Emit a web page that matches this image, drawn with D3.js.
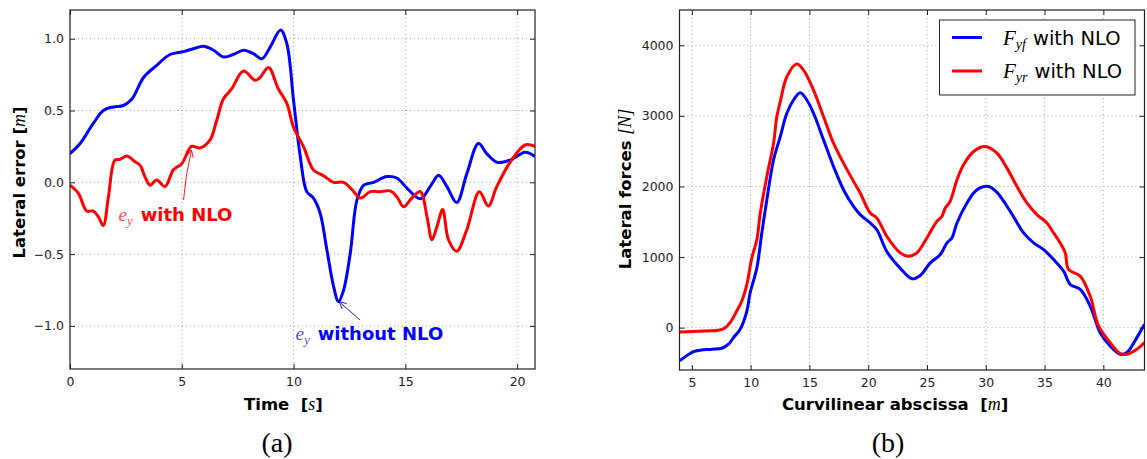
<!DOCTYPE html>
<html><head><meta charset="utf-8">
<script src="https://cdn.jsdelivr.net/npm/d3@7"></script>
<style>
html,body{margin:0;padding:0;background:#fff;}
svg{display:block;}
text{white-space:pre;}
.tick text{font-family:"DejaVu Sans",sans-serif;font-size:12.5px;fill:#222;}
.lab{font-family:"DejaVu Sans",sans-serif;font-weight:bold;font-size:16.5px;fill:#000;}
.math{font-family:"Liberation Serif","DejaVu Serif",serif;font-style:italic;font-weight:normal;}
</style>
</head><body>
<svg id="c" width="1147" height="459"></svg>
<script>
// ---------- Data: panel (a) lateral error ----------
const tWithout = [0,0.45,1.04,1.49,1.94,2.39,2.77,3.29,3.88,4.47,5.07,5.52,5.97,6.42,6.87,7.31,7.76,8.2,8.58,8.95,9.42,9.7,10.0,10.3,10.59,10.89,11.19,11.49,11.79,12.01,12.24,12.54,12.84,13.14,13.58,14.18,14.62,15.07,15.67,16.11,16.49,16.86,17.3,17.75,18.27,18.64,19.09,19.69,20.36,20.8];
const eyWithout = [0.20,0.27,0.41,0.50,0.525,0.535,0.58,0.73,0.815,0.89,0.91,0.93,0.947,0.92,0.873,0.89,0.92,0.896,0.86,0.94,1.06,0.965,0.57,0.18,-0.065,-0.11,-0.215,-0.47,-0.725,-0.83,-0.75,-0.49,-0.12,-0.02,0.0,0.04,0.03,-0.04,-0.115,-0.03,0.05,-0.03,-0.14,0.06,0.27,0.20,0.14,0.155,0.21,0.18];
const tWith = [0,0.37,0.75,1.04,1.27,1.49,1.72,2.01,2.24,2.54,2.91,3.13,3.35,3.58,3.88,4.25,4.62,5.0,5.44,5.82,6.26,6.56,6.86,7.23,7.76,8.28,8.5,8.88,9.32,9.7,9.99,10.44,10.89,11.34,11.79,12.24,12.61,12.99,13.43,13.88,14.32,14.62,14.92,15.29,15.67,15.97,16.19,16.41,16.67,16.93,17.3,17.75,18.31,18.71,19.09,19.69,20.36,20.8];
const eyWith = [-0.02,-0.076,-0.20,-0.20,-0.24,-0.30,-0.10,0.155,0.16,0.183,0.143,0.12,0.04,-0.02,0.016,-0.03,0.086,0.13,0.25,0.24,0.294,0.43,0.58,0.65,0.775,0.71,0.73,0.80,0.65,0.55,0.387,0.25,0.086,0.046,0.0,0.0,-0.05,-0.11,-0.065,-0.065,-0.06,-0.10,-0.17,-0.11,-0.065,-0.24,-0.40,-0.31,-0.19,-0.40,-0.48,-0.33,-0.065,-0.165,-0.03,0.14,0.26,0.25];
const timeTicks = [0,5,10,15,20];
const errTicks = [-1.0,-0.5,0.0,0.5,1.0];

// ---------- Data: panel (b) lateral forces ----------
const sFront = [3.95,5.14,5.71,6.7,7.55,8.12,8.54,9.11,9.68,9.96,10.53,10.95,11.38,11.95,12.52,13.08,13.65,14.22,14.78,15.35,16.2,17.05,17.9,18.75,19.32,20.17,20.73,21.58,22.73,23.72,24.43,25.28,26.13,26.7,27.12,27.55,28.4,29.25,30.24,30.95,32.08,33.22,34.07,34.92,35.77,36.62,37.18,38.03,38.88,39.73,40.58,41.43,42,42.85,43.5];
const fyf = [-471,-339,-320,-306,-292,-235,-141,-24,235,494,847,1342,1813,2378,2707,3037,3225,3329,3225,3037,2660,2283,1954,1718,1601,1483,1389,1080,840,692,739,918,1036,1200,1271,1483,1766,1954,2001,1916,1648,1342,1200,1106,965,800,612,541,306,-71,-259,-377,-353,-141,47];
const sRear = [3.95,5.14,6.27,7.26,7.83,8.25,8.82,9.25,9.68,10.1,10.53,10.82,11.38,11.95,12.23,12.52,13.08,13.93,14.5,15.35,16.2,17.05,17.9,18.75,19.32,20.17,20.73,21.58,22.73,23.43,24.14,24.99,25.84,26.27,26.55,26.97,27.55,28.11,28.96,29.95,30.95,31.8,32.65,33.5,34.35,35.2,35.77,36.33,36.76,37.04,38.03,38.88,39.59,40.58,41.43,42,42.85,43.5];
const fyr = [-61,-56,-47,-38,0,71,235,377,612,989,1248,1624,2142,2613,2990,3201,3555,3734,3649,3366,2990,2613,2330,2072,1907,1624,1554,1295,1059,1012,1059,1271,1506,1577,1695,1789,2095,2307,2495,2566,2472,2260,2001,1766,1601,1483,1342,1200,1059,824,730,447,24,-212,-367,-377,-306,-212];
const absTicks = [5,10,15,20,25,30,35,40];
const forceTicks = [0,1000,2000,3000,4000];

const svg = d3.select("#c");
const defs = svg.append("defs");

function panel(id, box, xDom, yDom, xT, yT, yFmt) {
  const x = d3.scaleLinear().domain(xDom).range([box.x0, box.x1]);
  const y = d3.scaleLinear().domain(yDom).range([box.y1, box.y0]);
  const g = svg.append("g");
  defs.append("clipPath").attr("id", id).append("rect")
    .attr("x", box.x0).attr("y", box.y0).attr("width", box.x1 - box.x0).attr("height", box.y1 - box.y0);
  g.append("g").selectAll("line").data(xT).join("line")
    .attr("x1", d => x(d)).attr("x2", d => x(d)).attr("y1", box.y0).attr("y2", box.y1)
    .attr("stroke", "#aaa").attr("stroke-width", 1).attr("stroke-dasharray", "1,3");
  g.append("g").selectAll("line").data(yT).join("line")
    .attr("y1", d => y(d)).attr("y2", d => y(d)).attr("x1", box.x0).attr("x2", box.x1)
    .attr("stroke", "#aaa").attr("stroke-width", 1).attr("stroke-dasharray", "1,3");
  const ax = g.append("g").attr("transform", `translate(0,${box.y1})`)
    .call(d3.axisBottom(x).tickValues(xT).tickSizeInner(-5).tickSizeOuter(0).tickPadding(8).tickFormat(d3.format("d")));
  const ay = g.append("g").attr("transform", `translate(${box.x0},0)`)
    .call(d3.axisLeft(y).tickValues(yT).tickSizeInner(-5).tickSizeOuter(0).tickPadding(6).tickFormat(yFmt));
  const axT = g.append("g").attr("transform", `translate(0,${box.y0})`)
    .call(d3.axisTop(x).tickValues(xT).tickSizeInner(-5).tickSizeOuter(0).tickFormat(""));
  const ayR = g.append("g").attr("transform", `translate(${box.x1},0)`)
    .call(d3.axisRight(y).tickValues(yT).tickSizeInner(-5).tickSizeOuter(0).tickFormat(""));
  [ax, ay, axT, ayR].forEach(a => { a.select(".domain").remove(); a.selectAll(".tick line").attr("stroke", "#222"); });
  const plot = g.append("g").attr("clip-path", `url(#${id})`);
  g.append("rect").attr("x", box.x0).attr("y", box.y0)
    .attr("width", box.x1 - box.x0).attr("height", box.y1 - box.y0)
    .attr("fill", "none").attr("stroke", "#222").attr("stroke-width", 1.2);
  return {x, y, g, plot};
}

function drawLine(p, xs, ys, color) {
  const pts = xs.map((v, i) => [v, ys[i]]);
  p.plot.append("path").datum(pts)
    .attr("d", d3.line().x(d => p.x(d[0])).y(d => p.y(d[1])).curve(d3.curveCatmullRom.alpha(0.5)))
    .attr("fill", "none").attr("stroke", color).attr("stroke-width", 3).attr("stroke-linejoin", "round");
}

// ---------- Panel (a) ----------
const A = panel("clipA", {x0: 70, x1: 535, y0: 10, y1: 369}, [0, 20.8], [-1.3, 1.2], timeTicks, errTicks, d3.format(".1f"));
drawLine(A, tWithout, eyWithout, "#0000ff");
drawLine(A, tWith, eyWith, "#ff0000");

function arrow(g, x1, y1, x2, y2, color, bend) {
  const mx = (x1 + x2) / 2 + bend, my = (y1 + y2) / 2;
  g.append("path").attr("d", `M${x1},${y1} Q${mx},${my} ${x2},${y2}`)
    .attr("fill", "none").attr("stroke", color).attr("stroke-width", 0.9);
  const ang = Math.atan2(y2 - my, x2 - mx);
  const L = 8, w = 0.45;
  g.append("path").attr("d",
    `M${x2 - L * Math.cos(ang - w)},${y2 - L * Math.sin(ang - w)} L${x2},${y2} L${x2 - L * Math.cos(ang + w)},${y2 - L * Math.sin(ang + w)}`)
    .attr("fill", "none").attr("stroke", color).attr("stroke-width", 0.9);
}
arrow(A.g, 183.5, 200, 191.5, 150, "#ff0000", -2);
arrow(A.g, 360, 320, 339, 301.5, "#0000ff", 0);

function eyLabel(g, x, yb, color, rest) {
  const t = g.append("text").attr("x", x).attr("y", yb).attr("fill", color);
  t.append("tspan").attr("class", "math").attr("font-size", 19).attr("fill-opacity", 0.75).text("e");
  t.append("tspan").attr("class", "math").attr("font-size", 13).attr("dy", 4).attr("fill-opacity", 0.75).text("y");
  t.append("tspan").attr("dy", -4).attr("dx", 8).attr("font-family", "DejaVu Sans").attr("font-weight", "bold").attr("font-size", 18).text(rest);
}
eyLabel(A.g, 118.5, 220.5, "#ff0000", "with NLO");
eyLabel(A.g, 295.5, 339.5, "#0000ff", "without NLO");

{
  const t = svg.append("text").attr("class", "lab").attr("x", 244).attr("y", 410);
  t.append("tspan").text("Time  [");
  t.append("tspan").attr("class", "math").attr("font-size", 18).text("s");
  t.append("tspan").text("]");
  const yl = svg.append("text").attr("class", "lab").attr("transform", "translate(25,182.5) rotate(-90)").attr("text-anchor", "middle");
  yl.append("tspan").text("Lateral error [");
  yl.append("tspan").attr("class", "math").attr("font-size", 18).text("m");
  yl.append("tspan").text("]");
  svg.append("text").attr("x", 277).attr("y", 452).attr("text-anchor", "middle")
    .attr("font-family", "Liberation Serif, DejaVu Serif, serif").attr("font-size", 28).text("(a)");
}

// ---------- Panel (b) ----------
const B = panel("clipB", {x0: 679.5, x1: 1144.5, y0: 10, y1: 370}, [3.95, 43.5], [-600, 4500], absTicks, forceTicks, d3.format("d"));
drawLine(B, sFront, fyf, "#0000ff");
drawLine(B, sRear, fyr, "#ff0000");

{
  const lg = B.g.append("g");
  lg.append("rect").attr("x", 939.5).attr("y", 20).attr("width", 195.5).attr("height", 75)
    .attr("fill", "#fff").attr("stroke", "#222").attr("stroke-width", 1);
  const items = [{c: "#0000ff", s: "yf", y: 37.5}, {c: "#ff0000", s: "yr", y: 71}];
  items.forEach(it => {
    lg.append("line").attr("x1", 952).attr("x2", 982).attr("y1", it.y).attr("y2", it.y)
      .attr("stroke", it.c).attr("stroke-width", 3);
    const t = lg.append("text").attr("x", 1003).attr("y", it.y + 7).attr("fill", "#000")
      .attr("font-family", "DejaVu Sans").attr("font-size", 19.5);
    t.append("tspan").attr("class", "math").attr("font-size", 21).text("F");
    t.append("tspan").attr("class", "math").attr("font-size", 14).attr("dy", 4).text(it.s);
    t.append("tspan").attr("dy", -4).attr("dx", 7).text("with NLO");
  });
}

{
  const t = svg.append("text").attr("class", "lab").attr("x", 782).attr("y", 410);
  t.append("tspan").text("Curvilinear abscissa  [");
  t.append("tspan").attr("class", "math").attr("font-size", 18).text("m");
  t.append("tspan").text("]");
  const yl = svg.append("text").attr("class", "lab").attr("transform", "translate(631,189) rotate(-90)").attr("text-anchor", "middle");
  yl.append("tspan").text("Lateral forces ");
  yl.append("tspan").attr("class", "math").attr("font-weight", "normal").attr("font-size", 18).text("[N]");
  svg.append("text").attr("x", 888).attr("y", 452).attr("text-anchor", "middle")
    .attr("font-family", "Liberation Serif, DejaVu Serif, serif").attr("font-size", 28).text("(b)");
}
</script>
</body></html>
